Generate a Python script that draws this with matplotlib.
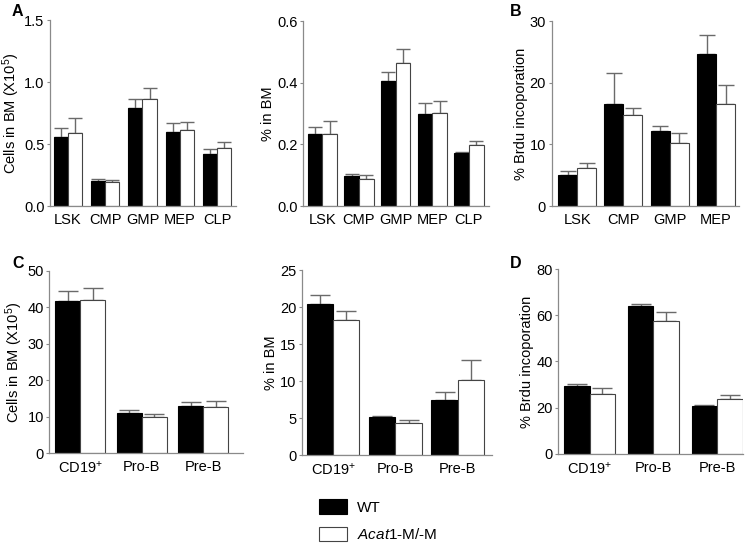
import matplotlib
matplotlib.use("Agg")
import matplotlib.pyplot as plt
from matplotlib.patches import Patch
import numpy as np

plt.rcParams['font.family'] = ['Liberation Sans', 'DejaVu Sans']
plt.rcParams['mathtext.fontset'] = 'custom'
plt.rcParams['mathtext.rm'] = 'Liberation Sans'
plt.rcParams['mathtext.it'] = 'Liberation Sans:italic'

# ---- data ----
prog_cells = ['LSK', 'CMP', 'GMP', 'MEP', 'CLP']
a1_wt = [0.56, 0.20, 0.79, 0.60, 0.42]
a1_wt_err = [0.07, 0.015, 0.07, 0.07, 0.04]
a1_ko = [0.59, 0.19, 0.86, 0.615, 0.47]
a1_ko_err = [0.12, 0.02, 0.09, 0.065, 0.05]

a2_wt = [0.235, 0.097, 0.405, 0.30, 0.172]
a2_wt_err = [0.02, 0.006, 0.03, 0.035, 0.003]
a2_ko = [0.235, 0.087, 0.465, 0.302, 0.198]
a2_ko_err = [0.04, 0.013, 0.045, 0.038, 0.012]

brdu_cells = ['LSK', 'CMP', 'GMP', 'MEP']
b_wt = [5.0, 16.5, 12.1, 24.6]
b_wt_err = [0.6, 5.1, 0.8, 3.2]
b_ko = [6.1, 14.8, 10.2, 16.6]
b_ko_err = [0.8, 1.1, 1.7, 3.1]

b_cells = ['CD19$^{+}$', 'Pro-B', 'Pre-B']
c1_wt = [41.8, 11.0, 12.9]
c1_wt_err = [2.7, 0.8, 1.1]
c1_ko = [42.0, 9.9, 12.6]
c1_ko_err = [3.3, 0.9, 1.8]

c2_wt = [20.4, 5.1, 7.4]
c2_wt_err = [1.2, 0.2, 1.1]
c2_ko = [18.2, 4.3, 10.1]
c2_ko_err = [1.2, 0.4, 2.7]

d_wt = [29.3, 64.1, 20.6]
d_wt_err = [1.0, 0.9, 0.7]
d_ko = [25.8, 57.4, 23.6]
d_ko_err = [2.7, 3.8, 1.8]

spine_col = '#8a8a8a'
err_col = '#6a6a6a'

fig = plt.figure(figsize=(7.45, 5.45), dpi=100)


def panel(rect, cats, wt, wte, ko, koe, ymax, yticks, ylabel, xlim, bw, cap, ticklabels=None):
    ax = fig.add_axes(rect)
    x = np.arange(len(cats))
    ax.bar(x - bw / 2, wt, bw, color='black', edgecolor='black', linewidth=0.8, zorder=2)
    ax.bar(x + bw / 2, ko, bw, color='white', edgecolor='#444444', linewidth=0.8, zorder=2)
    ax.errorbar(x - bw / 2, wt, yerr=[np.zeros(len(wt)), wte], fmt='none',
                ecolor=err_col, elinewidth=1, capsize=cap, capthick=1, zorder=1)
    ax.errorbar(x + bw / 2, ko, yerr=[np.zeros(len(ko)), koe], fmt='none',
                ecolor=err_col, elinewidth=1, capsize=cap, capthick=1, zorder=1)
    ax.set_ylim(0, ymax)
    ax.set_xlim(*xlim)
    ax.set_yticks(yticks)
    if ticklabels is not None:
        ax.set_yticklabels(ticklabels)
    ax.set_xticks(x)
    ax.set_xticklabels(cats)
    for s in ['top', 'right']:
        ax.spines[s].set_visible(False)
    for s in ['left', 'bottom']:
        ax.spines[s].set_color(spine_col)
        ax.spines[s].set_linewidth(0.9)
    ax.tick_params(axis='y', length=2.5, width=0.8, color=spine_col, pad=1.5, labelsize=10.5)
    ax.tick_params(axis='x', length=0, pad=5, labelsize=10.5)
    ax.set_ylabel(ylabel, fontsize=10.5, labelpad=1.5)
    return ax


panel([0.0671, 0.622, 0.2497, 0.3413], prog_cells, a1_wt, a1_wt_err, a1_ko, a1_ko_err,
      1.5, [0.0, 0.5, 1.0, 1.5], 'Cells in BM (X10$^{5}$)', (-0.48, 4.51), 0.38, 5,
      ['0.0', '0.5', '1.0', '1.5'])
panel([0.4071, 0.622, 0.2493, 0.3394], prog_cells, a2_wt, a2_wt_err, a2_ko, a2_ko_err,
      0.6, [0.0, 0.2, 0.4, 0.6], '% in BM', (-0.52, 4.55), 0.40, 5,
      ['0.0', '0.2', '0.4', '0.6'])
panel([0.7405, 0.622, 0.2518, 0.3394], brdu_cells, b_wt, b_wt_err, b_ko, b_ko_err,
      30, [0, 10, 20, 30], '% Brdu incoporation', (-0.55, 3.5), 0.41, 6)
panel([0.0662, 0.1688, 0.2596, 0.334], b_cells, c1_wt, c1_wt_err, c1_ko, c1_ko_err,
      50, [0, 10, 20, 30, 40, 50], 'Cells in BM (X10$^{5}$)', (-0.50, 2.64), 0.405, 7)
panel([0.4054, 0.1651, 0.2546, 0.3394], b_cells, c2_wt, c2_wt_err, c2_ko, c2_ko_err,
      25, [0, 5, 10, 15, 20, 25], '% in BM', (-0.505, 2.55), 0.42, 7)
panel([0.7494, 0.167, 0.2483, 0.3394], b_cells, d_wt, d_wt_err, d_ko, d_ko_err,
      80, [0, 20, 40, 60, 80], '% Brdu incoporation', (-0.49, 2.41), 0.40, 7)

# panel letters
for lab, px, py in [('A', 12, 12), ('B', 510, 12), ('C', 12, 263), ('D', 510, 263)]:
    fig.text(px / 745, 1 - py / 545, lab, fontsize=11.5, fontweight='bold', va='center', ha='left')

handles = [Patch(facecolor='black', edgecolor='black', linewidth=0.8),
           Patch(facecolor='white', edgecolor='#444444', linewidth=0.8)]
fig.legend(handles, ['WT', r'$\it{Acat1}$-M/-M'], loc='upper left',
           bbox_to_anchor=(319 / 745, 1 - 499 / 545), frameon=False, fontsize=11,
           handlelength=1.8, handleheight=1.1, labelspacing=0.8, borderpad=0,
           borderaxespad=0, handletextpad=0.7)

fig.savefig('out.png', dpi=100)
